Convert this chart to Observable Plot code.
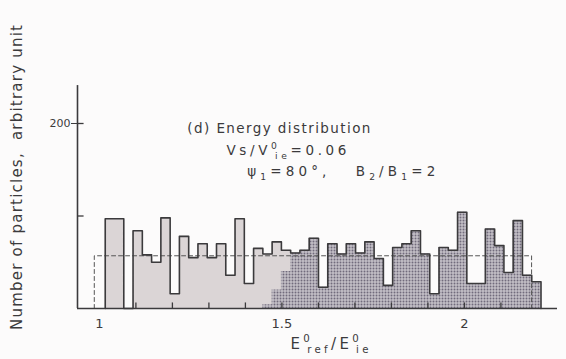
<!DOCTYPE html>
<html><head><meta charset="utf-8">
<script src="https://cdn.jsdelivr.net/npm/d3@7"></script>
<script src="https://cdn.jsdelivr.net/npm/@observablehq/plot@0.6"></script>
<style>
html,body{margin:0;padding:0;background:#fcfbfb;}
#chart svg{display:block;}
</style>
</head><body><div id="chart"></div>
<script>
// ---- data ----
// total counts per energy bin (arbitrary unit)
const totalCounts = [97,97,0,84,58,50,98,16,78,55,70,55,70,36,97,27,65,59,72,63,60,63,76,23,70,59,70,60,72,54,25,66,70,84,59,16,66,63,104,27,27,86,68,39,95,36,29];
// darker (shaded) component per bin
const shadedCounts = [0,0,0,0,0,0,0,0,0,0,0,0,0,0,0,0,0,4,20,40,60,63,76,23,70,59,70,60,72,54,25,66,70,84,59,16,66,63,104,27,27,86,68,39,95,36,29];
const binStart = 1.016;      // E_ref/E_ie at left edge of first bin
const binWidth = 0.0254;     // bin width in E_ref/E_ie
const refLevel = 57;         // dashed reference level
const refRange = [0.986, 2.184];
const xTicks = [1, 1.5, 2];
const xTickLabels = ["1", "1.5", "2"];
const xMinorTicks = [1.1, 1.2, 1.3, 1.4, 1.5, 1.6, 1.7, 1.8, 1.9, 2.0, 2.1];
const yTicks = [200];
const yTickLabels = ["200"];
const yInnerTicks = [100, 200];
const annotations = [
  {x: 1.241, y: 194, text: "(d) Energy distribution"},
  {x: 1.348, y: 171, text: "Vs/V0ie=0.06"},
  {x: 1.405, y: 148, text: "ψ1=80°,  B2/B1=2"}
];
const yLabel = "Number of particles,  arbitrary unit";
const xLabel = "E0ref/E0ie";

// ---- build tables ----
const xMin = 0.94, xMax = 2.255;
const bins = totalCounts.map((c, i) => ({x1: binStart + i * binWidth, x2: binStart + (i + 1) * binWidth, total: c, shaded: shadedCounts[i]}));
const xEnd = bins[bins.length - 1].x2;
const stepsTotal = bins.map(b => ({x: b.x1, y: b.total})).concat([{x: xEnd, y: bins[bins.length - 1].total}]);
const stepsShaded = bins.map(b => ({x: b.x1, y: b.shaded})).concat([{x: xEnd, y: bins[bins.length - 1].shaded}]);
const outline = [{x: bins[0].x1, y: 0}].concat(stepsTotal, [{x: xEnd, y: 0}]);
const refLine = [{x: refRange[0], y: 0}, {x: refRange[0], y: refLevel}, {x: refRange[1], y: refLevel}, {x: refRange[1], y: 0}];

const ink = "#3b3a3c";
const shadeColor = "#a6a2ab";
const chart = Plot.plot({
  width: 566, height: 359,
  marginLeft: 77, marginRight: 9, marginTop: 86, marginBottom: 51,
  x: {domain: [xMin, xMax]},
  y: {domain: [0, 240]},
  style: {background: "#fcfbfb", fontFamily: "'DejaVu Sans', sans-serif", color: ink},
  marks: [
    Plot.areaY(stepsTotal, {x: "x", y: "y", curve: "step-after", fill: "#dbd5d6"}),
    Plot.areaY(stepsShaded, {x: "x", y: "y", curve: "step-after", fill: shadeColor}),
    Plot.line(refLine, {x: "x", y: "y", stroke: "#555", strokeWidth: 1, strokeDasharray: "4,3"}),
    Plot.line(outline, {x: "x", y: "y", curve: "step-after", stroke: ink, strokeWidth: 1.6}),
    Plot.ruleY([0], {x1: xMin, x2: xMax, stroke: ink, strokeWidth: 1.6}),
    Plot.ruleX([xMin], {y1: 0, y2: 241, stroke: ink, strokeWidth: 1.6}),
    Plot.ruleX(xMinorTicks, {x: d => d, y1: 0, y2: 6, stroke: ink, strokeWidth: 1.3}),
    Plot.ruleY(yInnerTicks, {y: d => d, x1: xMin, x2: xMin + 0.018, stroke: ink, strokeWidth: 1.3}),
    Plot.axisX({ticks: xTicks, tickSize: 0, tickPadding: 10, tickFormat: (d, i) => xTickLabels[i], fontSize: 13, label: null}),
    Plot.axisY({ticks: yTicks, tickSize: 6, tickPadding: 1, tickFormat: (d, i) => yTickLabels[i], fontSize: 11, label: null}),
    Plot.text(annotations, {x: "x", y: "y", text: "text", textAnchor: "start", fontSize: 13.5, fill: ink}),
    Plot.text([yLabel], {frameAnchor: "left", rotate: -90, dx: -60, dy: -20, fontSize: 15, fill: ink}),
    Plot.text([xLabel], {frameAnchor: "bottom", dx: 12, dy: 40, fontSize: 15, fill: ink})
  ]
});
document.getElementById("chart").appendChild(chart);

// ---- halftone pattern for the shaded component ----
const svgns = "http://www.w3.org/2000/svg";
const svgSel = d3.select(chart);
const defs = svgSel.insert("defs", ":first-child");
const pat = defs.append("pattern").attr("id", "halftone").attr("patternUnits", "userSpaceOnUse").attr("width", 3).attr("height", 3);
pat.append("rect").attr("width", 3).attr("height", 3).attr("fill", "#c3bfc6");
pat.append("circle").attr("cx", 1.5).attr("cy", 1.5).attr("r", 0.95).attr("fill", "#716b7c");
svgSel.selectAll("path").each(function () {
  if (this.getAttribute("fill") === shadeColor) this.setAttribute("fill", "url(#halftone)");
});
svgSel.selectAll("g").each(function () {
  if (this.getAttribute("fill") === shadeColor) this.setAttribute("fill", "url(#halftone)");
});

// ---- rich text (sub/superscripts) and widths ----
function richify(el, parts, base) {
  el.textContent = "";
  let cur = 0;
  parts.forEach(p => {
    const ts = document.createElementNS(svgns, "tspan");
    ts.textContent = p.t;
    const target = p.sup ? -base * 0.42 : p.sub ? base * 0.3 : 0;
    ts.setAttribute("dy", target - cur);
    cur = target;
    if (p.sup || p.sub) ts.setAttribute("font-size", base * 0.68);
    if (p.dx) ts.setAttribute("dx", p.dx);
    el.appendChild(ts);
  });
}
const rich = {
  "Vs/V0ie=0.06": {parts: [{t: "Vs/V"}, {t: "0", sup: 1}, {t: "ie", sub: 1, dx: -5.5}, {t: "=0.06"}], base: 13.5, len: 120},
  "ψ1=80°,  B2/B1=2": {parts: [{t: "ψ"}, {t: "1", sub: 1}, {t: "=80°,   B"}, {t: "2", sub: 1}, {t: "/B"}, {t: "1", sub: 1}, {t: "=2"}], base: 13.5, len: 188},
  "(d) Energy distribution": {parts: null, len: 183},
  "E0ref/E0ie": {parts: [{t: "E"}, {t: "0", sup: 1}, {t: "ref", sub: 1, dx: -6}, {t: "/E"}, {t: "0", sup: 1}, {t: "ie", sub: 1, dx: -6}], base: 15, len: 78, center: true},
  "Number of particles,  arbitrary unit": {parts: null, len: 305, center: true}
};
svgSel.selectAll("text").each(function () {
  const r = rich[this.textContent];
  if (!r) return;
  if (r.parts) richify(this, r.parts, r.base);
  this.setAttribute("textLength", r.len);
  this.setAttribute("lengthAdjust", "spacing");
  if (r.center) {
    this.setAttribute("text-anchor", "start");
    this.setAttribute("x", -r.len / 2);
  }
});
</script>
</body></html>
